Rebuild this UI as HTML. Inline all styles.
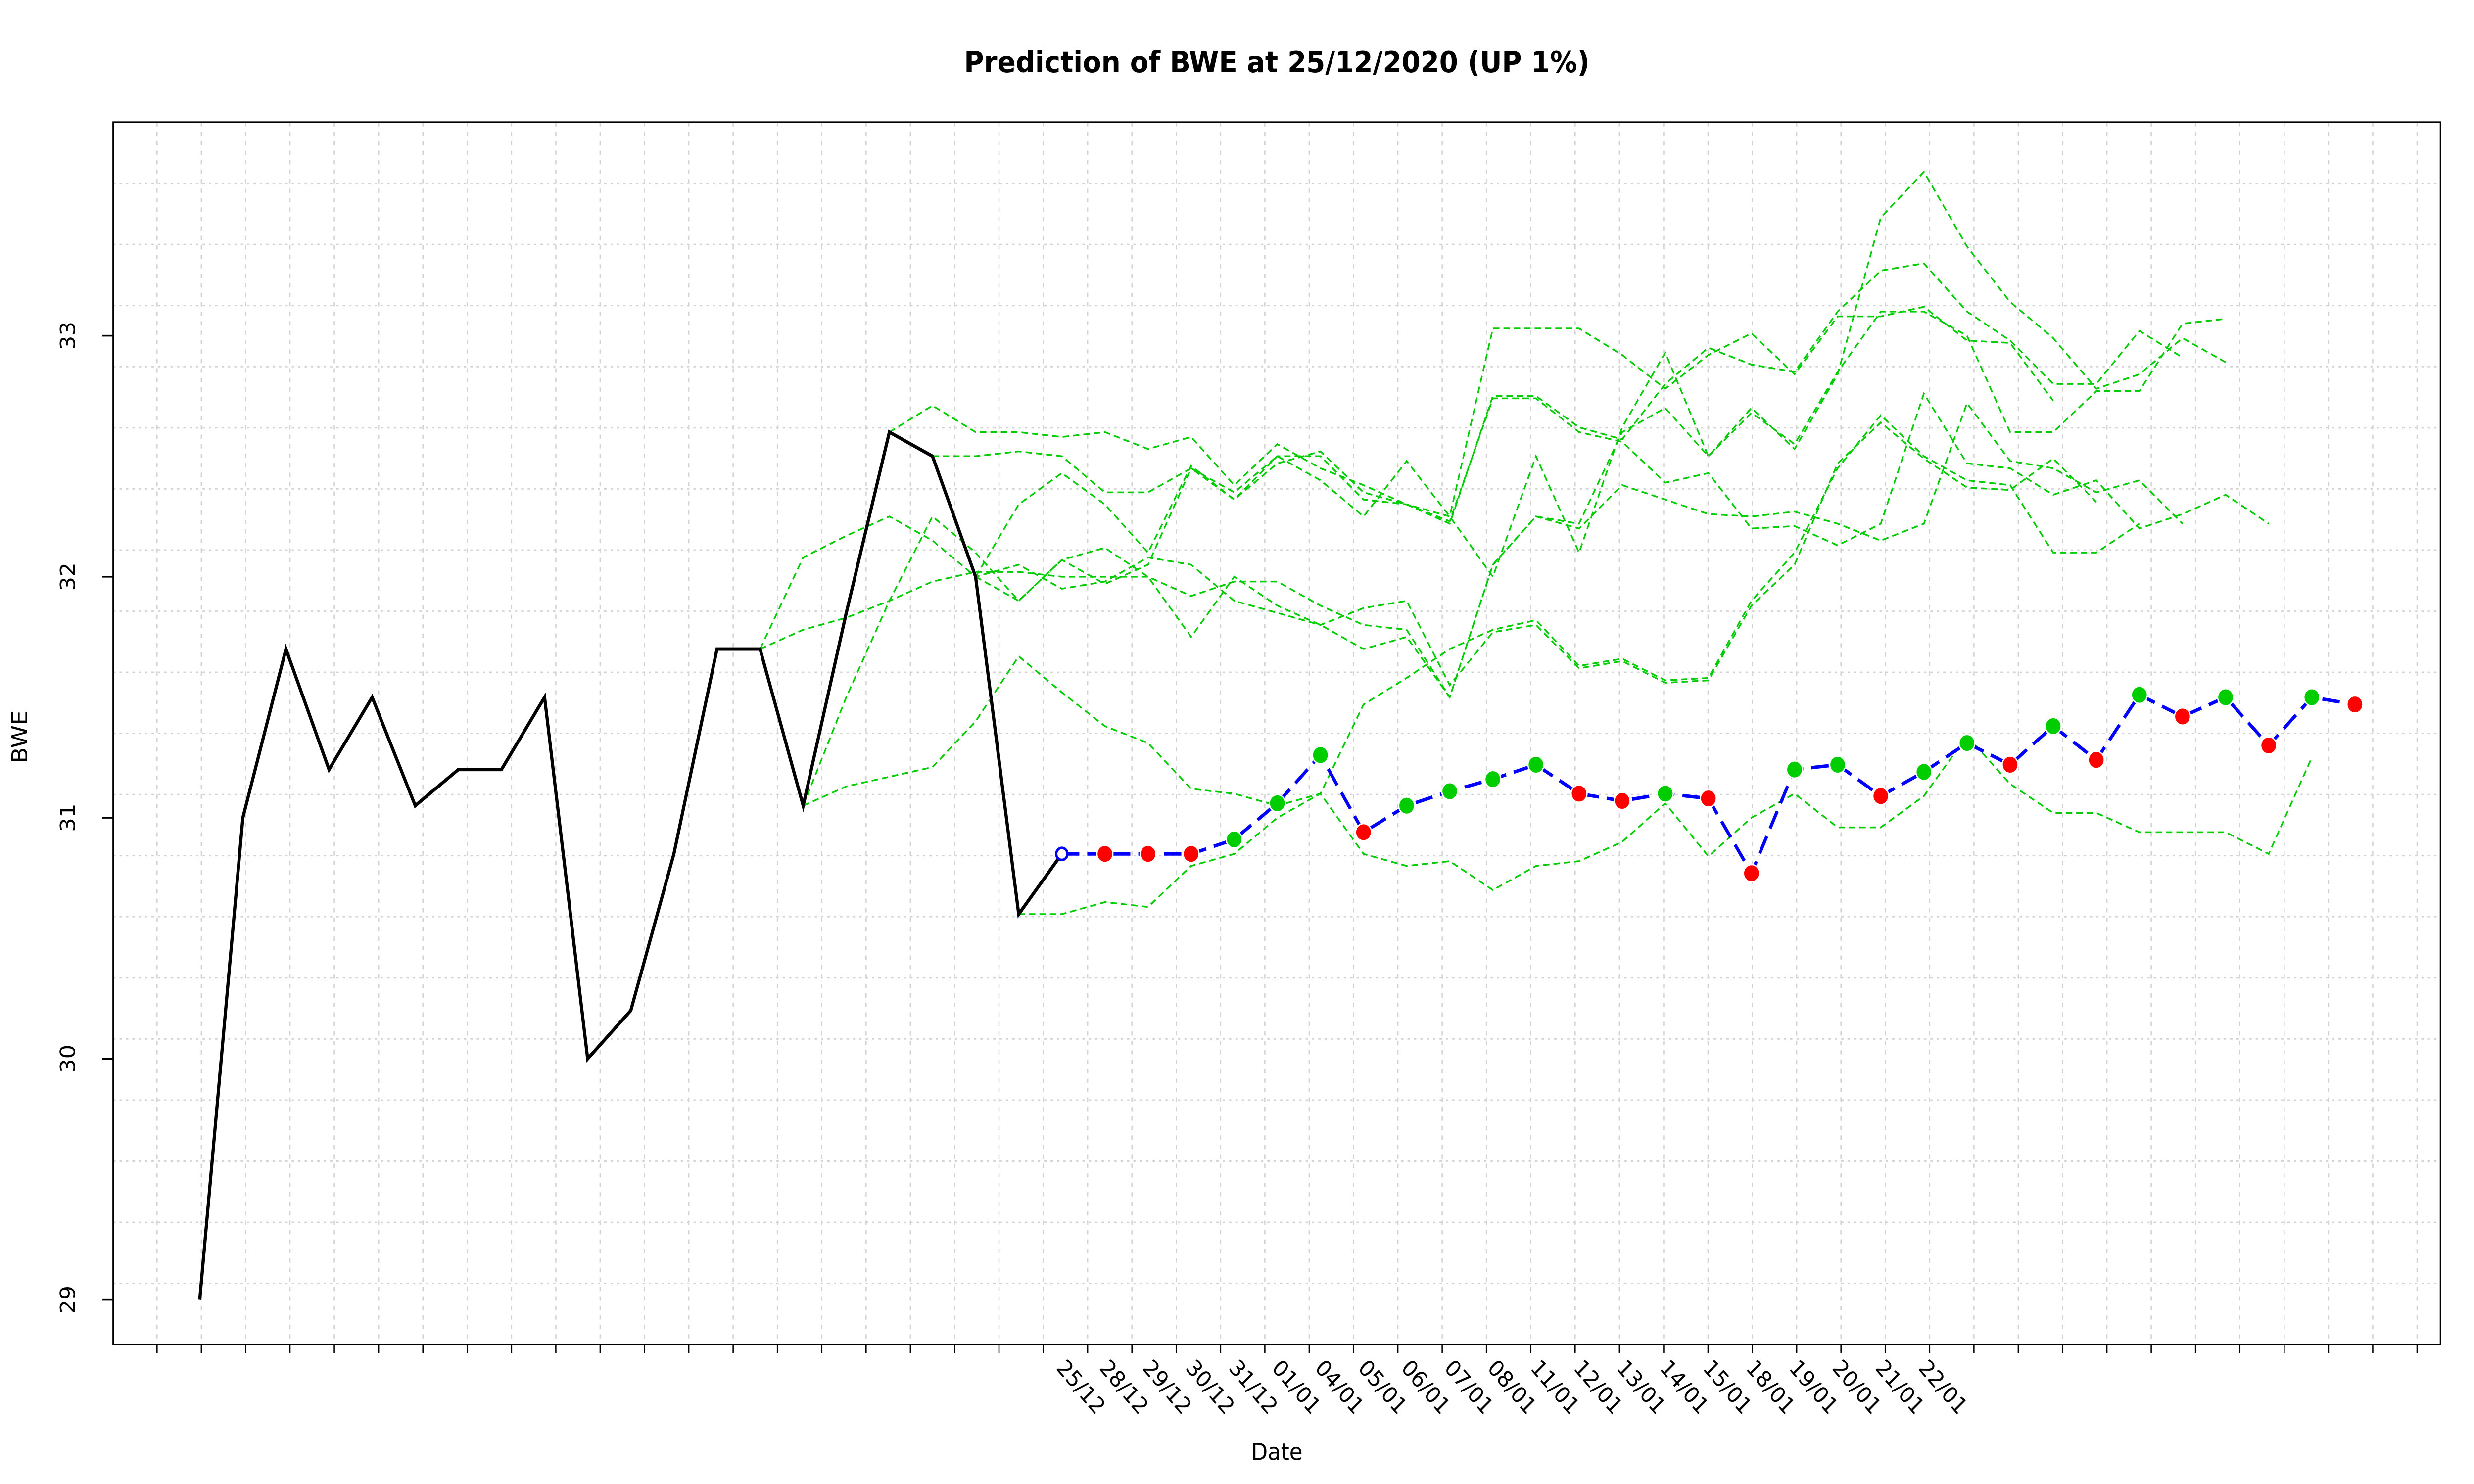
<!DOCTYPE html>
<html><head><meta charset="utf-8"><title>Prediction of BWE</title>
<style>
html,body{margin:0;padding:0;background:#fff;width:100%;height:100%;overflow:hidden;}
svg{display:block;position:absolute;left:0;top:0;width:100vw;height:100vh;font-family:"DejaVu Sans","Liberation Sans",sans-serif;}
</style></head>
<body>
<svg id="chart" viewBox="0 0 1552 862" preserveAspectRatio="none" xmlns="http://www.w3.org/2000/svg">
<rect x="0" y="0" width="1552" height="862" fill="#fff"/>
<g id="grid"></g>
<g id="series"></g>
<rect x="71" y="71" width="1460" height="710" fill="none" stroke="#000" stroke-width="1"/>
<g id="axes"></g>
<text x="801" y="42" text-anchor="middle" font-size="17" font-weight="bold">Prediction of BWE at 25/12/2020 (UP 1%)</text>
<text x="801" y="848" text-anchor="middle" font-size="13.5">Date</text>
<text x="0" y="0" transform="translate(17,428) rotate(-90)" text-anchor="middle" font-size="13.5">BWE</text>
</svg>
<script>
// ---- data ----
const historyValues = [29, 31, 31.7, 31.2, 31.5, 31.05, 31.2, 31.2, 31.5, 30, 30.2, 30.85, 31.7, 31.7, 31.05, 31.85, 32.6, 32.5, 32.0, 30.6, 30.85];
const predStart = 20;
const predValues = [30.85, 30.85, 30.85, 30.85, 30.91, 31.06, 31.26, 30.94, 31.05, 31.11, 31.16, 31.22, 31.10, 31.07, 31.10, 31.08, 30.77, 31.20, 31.22, 31.09, 31.19, 31.31, 31.22, 31.38, 31.24, 31.51, 31.42, 31.50, 31.30, 31.50, 31.47];
const dateLabels = ["25/12","28/12","29/12","30/12","31/12","01/01","04/01","05/01","06/01","07/01","08/01","11/01","12/01","13/01","14/01","15/01","18/01","19/01","20/01","21/01","22/01"];
const yTicks = [29, 30, 31, 32, 33];
const sim1Start = 16;
const sim1 = [32.6, 32.71, 32.6, 32.6, 32.58, 32.6, 32.53, 32.58, 32.38, 32.55, 32.45, 32.38, 32.3, 32.23, 32.74, 32.74, 32.6, 32.56, 32.39, 32.43, 32.2, 32.21, 32.13, 32.22, 32.76, 32.47, 32.45, 32.34, 32.4, 32.2, 32.26, 32.34, 32.22];
const sim2Start = 17;
const sim2 = [32.5, 32.5, 32.52, 32.5, 32.35, 32.35, 32.45, 32.32, 32.5, 32.5, 32.32, 32.3, 32.25, 33.03, 33.03, 33.03, 32.92, 32.78, 32.92, 33.01, 32.84, 33.08, 33.08, 33.12, 32.98, 32.97, 32.73];
const sim3Start = 13;
const sim3 = [31.7, 32.08, 32.17, 32.25, 32.15, 32.0, 32.05, 31.95, 31.98, 32.08, 32.05, 31.9, 31.85, 31.8, 31.87, 31.9, 31.55, 31.77, 31.8, 31.62, 31.65, 31.56, 31.57, 31.88, 32.05, 32.47, 32.64, 32.49, 32.37, 32.36, 32.49, 32.31];
const sim4Start = 13;
const sim4 = [31.7, 31.78, 31.83, 31.9, 31.98, 32.02, 32.02, 32.0, 32.0, 32.0, 31.92, 31.98, 31.98, 31.88, 31.8, 31.78, 31.5, 32.05, 32.25, 32.22, 32.6, 32.7, 32.5, 32.68, 32.55, 32.85, 33.1, 33.1, 33.0, 32.6, 32.6, 32.77, 32.77, 33.05, 33.07];
const sim5Start = 14;
const sim5 = [31.05, 31.13, 31.17, 31.21, 31.4, 31.67, 31.52, 31.38, 31.31, 31.12, 31.1, 31.05, 31.1, 30.85, 30.8, 30.82, 30.7, 30.8, 30.82, 30.9, 31.06, 30.84, 31.0, 31.1, 30.96, 30.96, 31.09, 31.34, 31.14, 31.02, 31.02, 30.94, 30.94, 30.94, 30.85, 31.25];
const sim6Start = 19;
const sim6 = [30.6, 30.6, 30.65, 30.63, 30.8, 30.85, 31.0, 31.1, 31.47, 31.58, 31.7, 31.78, 31.82, 31.63, 31.66, 31.57, 31.58, 31.9, 32.1, 32.45, 32.67, 32.5, 32.4, 32.38, 32.1, 32.1, 32.22];
const sim7Start = 14;
const sim7 = [31.05, 31.5, 31.9, 32.25, 32.1, 31.9, 32.07, 32.12, 32.0, 31.75, 32.0, 31.88, 31.8, 31.7, 31.75, 31.5, 32.05, 32.25, 32.2, 32.38, 32.32, 32.26, 32.25, 32.27, 32.22, 32.15, 32.22, 32.72, 32.48, 32.45, 32.35, 32.4, 32.22];
const sim8Start = 18;
const sim8 = [32.0, 32.3, 32.43, 32.3, 32.1, 32.46, 32.32, 32.47, 32.52, 32.35, 32.3, 32.22, 32.75, 32.75, 32.62, 32.57, 32.8, 32.95, 32.88, 32.85, 33.1, 33.27, 33.3, 33.1, 32.98, 32.8, 32.8, 33.02, 32.91];
const sim9Start = 18;
const sim9 = [32.0, 31.9, 32.07, 31.97, 32.05, 32.45, 32.35, 32.5, 32.4, 32.25, 32.48, 32.25, 32.0, 32.5, 32.1, 32.62, 32.93, 32.5, 32.7, 32.53, 32.84, 33.49, 33.68, 33.37, 33.14, 32.99, 32.78, 32.84, 32.99, 32.89];

// ---- scales ----
const NS = "http://www.w3.org/2000/svg";
function xPos(i){ return 125.3 + 27.04 * i; }
function yPos(v){ return 755 - (v - 29) * 140; }
function mk(tag, attrs, parent){
  const e = document.createElementNS(NS, tag);
  for (const k in attrs) e.setAttribute(k, attrs[k]);
  parent.appendChild(e);
  return e;
}
const grid = document.getElementById('grid');
const series = document.getElementById('series');
const axes = document.getElementById('axes');

for (let x = 70.7 + 27.8; x < 1531; x += 27.8) {
  const l = mk('line', {x1:x, x2:x, y1:71, y2:781, stroke:'#d3d3d3', 'stroke-width':0.8, 'stroke-dasharray':'2.5,3'}, grid);
  
  
  const t = mk('line', {x1:x, x2:x, y1:781, y2:786, stroke:'#000', 'stroke-width':0.8}, axes);
  
  
}
for (let y = 71 + 35.5; y < 781; y += 35.5) {
  const l = mk('line', {x1:71, x2:1531, y1:y, y2:y, stroke:'#d3d3d3', 'stroke-width':0.8, 'stroke-dasharray':'1.5,2.5'}, grid);
  
  
}

yTicks.forEach(v => {
  const y = yPos(v);
  const t = mk('line', {x1:64, x2:71, y1:y, y2:y, stroke:'#000', 'stroke-width':1}, axes);
  
  
  const lab = mk('text', {transform:'translate(47,' + y + ') rotate(-90)', 'text-anchor':'middle', 'font-size':13}, axes);
  lab.textContent = String(v);
  
  
});

dateLabels.forEach((d, k) => {
  const x = xPos(predStart + k);
  const lab = mk('text', {transform:'translate(' + (x - 4) + ',795) rotate(47)', 'font-size':13}, axes);
  lab.textContent = d;
  
  
});

function pts(vals, start){ return vals.map((v, k) => xPos(start + k).toFixed(2) + ',' + yPos(v).toFixed(2)).join(' '); }

const sims = [[sim1,sim1Start],[sim2,sim2Start],[sim3,sim3Start],[sim4,sim4Start],[sim5,sim5Start],[sim6,sim6Start],[sim7,sim7Start],[sim8,sim8Start],[sim9,sim9Start]];
sims.forEach((s, n) => {
  const p = mk('polyline', {points:pts(s[0], s[1]), fill:'none', stroke:'#00cd00', 'stroke-width':1, 'stroke-dasharray':'4,2.5'}, series);
  
  
});

const h = mk('polyline', {points:pts(historyValues, 0), fill:'none', stroke:'#000', 'stroke-width':2, 'stroke-linejoin':'miter'}, series);



const pl = mk('polyline', {points:pts(predValues, predStart), fill:'none', stroke:'#0000ff', 'stroke-width':2, 'stroke-dasharray':'11,5'}, series);


predValues.forEach((v, k) => {
  const cx = xPos(predStart + k), cy = yPos(v);
  if (k === 0) {
    const c = mk('circle', {cx:cx, cy:cy, r:3.5, fill:'#fff', stroke:'#0000ff', 'stroke-width':1.5}, series);
    
    
    return;
  }
  const up = v > predValues[k - 1];
  const c = mk('circle', {cx:cx, cy:cy, r:5, fill: up ? '#00cd00' : '#ff0000', stroke:'#fff', 'stroke-width':0.8}, series);
  
  
});
</script>
</body></html>
